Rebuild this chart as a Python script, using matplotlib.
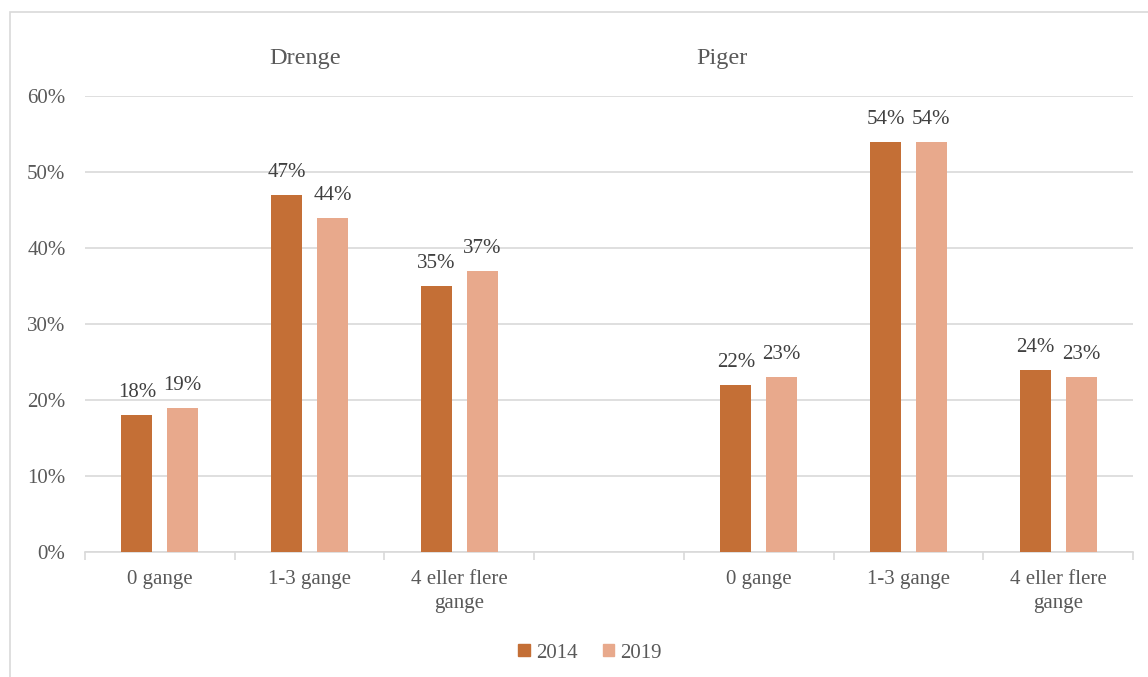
import matplotlib.pyplot as plt
import matplotlib.transforms as mtransforms
from matplotlib.patches import Rectangle
import numpy as np

categories = ['0 gange', '1-3 gange', '4 eller flere\ngange', '',
              '0 gange', '1-3 gange', '4 eller flere\ngange']
vals_2014 = [18, 47, 35, None, 22, 54, 24]
vals_2019 = [19, 44, 37, None, 23, 54, 23]
series = ['2014', '2019']
groups = ['Drenge', 'Piger']
group_pos = [0.97, 3.755]

c14 = '#C46F36'
c19 = '#E8A98C'
txt = '#595959'
grid = '#D9D9D9'

plt.rcParams['font.family'] = ['Liberation Serif', 'DejaVu Serif']

fig = plt.figure(figsize=(11.48, 6.77), dpi=100)
ax = fig.add_axes([85/1148, 1-552/677, 1048/1148, 456/677])

# chart frame
fig.patches.append(Rectangle((10/1148, -0.1), 1.2, 1-12/677+0.1,
                             transform=fig.transFigure, fill=False,
                             edgecolor=grid, lw=1.2))

x = np.arange(len(categories))
w = 0.207
off = 0.153
for xi, v in zip(x, vals_2014):
    if v is None:
        continue
    ax.bar(xi - off, v, w, color=c14, zorder=3)
    ax.text(xi - off, v + 1.7, f'{v}%', ha='center', va='bottom',
            fontsize=15, color='#404040')
for xi, v in zip(x, vals_2019):
    if v is None:
        continue
    ax.bar(xi + off, v, w, color=c19, zorder=3)
    ax.text(xi + off, v + 1.7, f'{v}%', ha='center', va='bottom',
            fontsize=15, color='#404040')

ax.set_xlim(-0.5, len(categories) - 0.5)
ax.set_ylim(0, 60)
ax.set_yticks(range(0, 61, 10))
ax.set_yticklabels([f'{t}%' for t in range(0, 61, 10)])
ax.yaxis.grid(True, color=grid, lw=1.2, zorder=0)
ax.tick_params(axis='y', length=0, pad=14, labelsize=15, labelcolor=txt)

ax.set_xticks(x)
ax.set_xticklabels(categories, linespacing=1.35)
ax.set_xticks(np.arange(-0.5, len(categories), 1), minor=True)
ax.tick_params(axis='x', which='major', length=0, pad=13, labelsize=15,
               labelcolor=txt)
ax.tick_params(axis='x', which='minor', length=6, color=grid, width=1.2)

for s in ['top', 'right', 'left']:
    ax.spines[s].set_visible(False)
ax.spines['bottom'].set_color(grid)
ax.spines['bottom'].set_linewidth(1.2)

trans = mtransforms.blended_transform_factory(ax.transData, ax.transAxes)
for g, gx in zip(groups, group_pos):
    ax.text(gx, 1 + 37/456, g, transform=trans, ha='center', va='center',
            fontsize=17.5, color=txt)

handles = [Rectangle((0, 0), 1, 1, color=c14), Rectangle((0, 0), 1, 1, color=c19)]
fig.legend(handles, series, loc='center', bbox_to_anchor=(590/1148, 1-653/677),
           ncol=2, frameon=False, fontsize=15, handlelength=0.55, handleheight=0.55,
           handletextpad=0.3, columnspacing=1.2, labelcolor=txt)

fig.savefig('out.png', dpi=100)
